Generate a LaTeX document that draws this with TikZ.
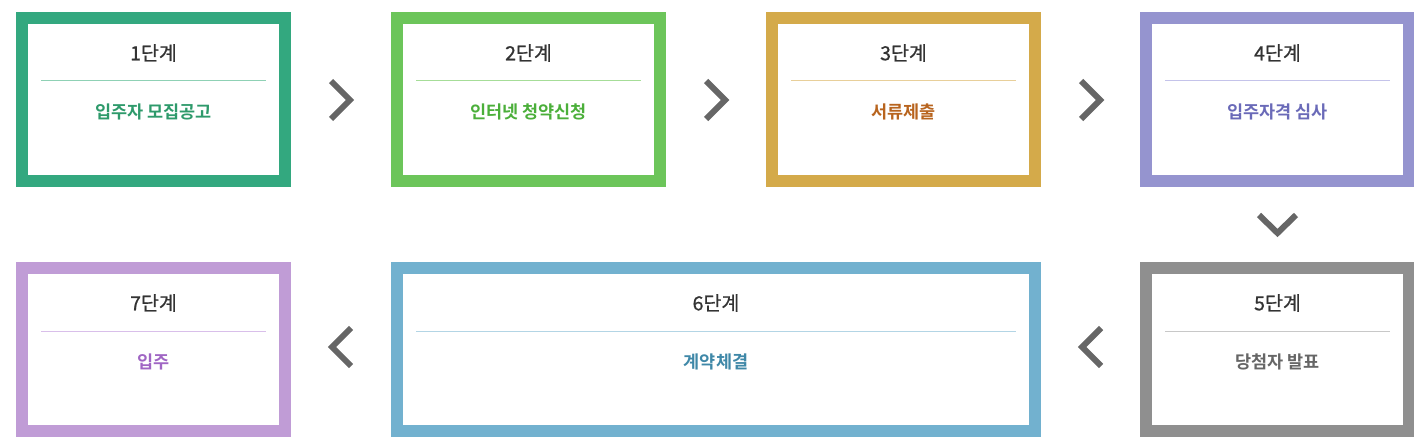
\documentclass[tikz,border=0pt]{standalone}
\usepackage{fontspec}
\setmainfont{Noto Sans CJK KR}
\newfontfamily\krbold{Noto Sans CJK KR Bold}
\newfontfamily\krmed[FakeBold=0.8]{Noto Sans CJK KR}
\definecolor{bA}{HTML}{33A87F}\definecolor{tA}{HTML}{2E9A6B}\definecolor{lA}{HTML}{8FD1B5}
\definecolor{bB}{HTML}{6CC55A}\definecolor{tB}{HTML}{4BAF3A}\definecolor{lB}{HTML}{A6DD98}
\definecolor{bC}{HTML}{D4AA4A}\definecolor{tC}{HTML}{B8641E}\definecolor{lC}{HTML}{E8CF9A}
\definecolor{bD}{HTML}{9594CF}\definecolor{tD}{HTML}{6A6AB8}\definecolor{lD}{HTML}{C4C3EA}
\definecolor{bE}{HTML}{8F8F8F}\definecolor{tE}{HTML}{666666}\definecolor{lE}{HTML}{C8C8C8}
\definecolor{bF}{HTML}{72B1CF}\definecolor{tF}{HTML}{3F88A8}\definecolor{lF}{HTML}{B3D5E5}
\definecolor{bG}{HTML}{C09CD6}\definecolor{tG}{HTML}{A066C4}\definecolor{lG}{HTML}{D9BFEA}
\definecolor{ttl}{HTML}{333333}
\definecolor{chevc}{HTML}{666666}
\tikzset{
  stepbox/.style={draw, line width=12pt, fill=white, inner sep=0pt, minimum height=163pt, minimum width=263pt},
  steptitle/.style={font=\krmed\fontsize{19.5}{22}\selectfont, text=ttl, inner sep=0pt},
  stepsub/.style={font=\krbold\fontsize{17.5}{20}\selectfont, inner sep=0pt},
  chev/.style={draw=chevc, line width=6pt, miter limit=10},
  pics/chevright/.style={code={\draw[chev] (-10,-19) -- (9,0) -- (-10,19);}},
  pics/chevleft/.style={code={\draw[chev] (10,-19) -- (-9,0) -- (10,19);}},
  pics/chevdown/.style={code={\draw[chev] (-18.5,-9) -- (0,9) -- (18.5,-9);}},
}
\newcommand{\stepparts}[5]{%
  \node[steptitle] (#1t) at ([yshift=46.5pt]#1.center) {#2};
  \draw[#4, line width=1pt] ([xshift=25pt,yshift=-69pt]#1.north west) -- ([xshift=-25pt,yshift=-69pt]#1.north east);
  \node[stepsub, text=#5] (#1s) at ([yshift=-12.5pt]#1.center) {#3};
}
\begin{document}
\begin{tikzpicture}[x=1pt,y=-1pt]
\useasboundingbox (0,0) rectangle (1414,444);
\node[stepbox, draw=bA] (s1) at (153.5,99.5) {};
\node[stepbox, draw=bB] (s2) at (528.5,99.5) {};
\node[stepbox, draw=bC] (s3) at (903.5,99.5) {};
\node[stepbox, draw=bD] (s4) at (1277.5,99.5) {};
\node[stepbox, draw=bE] (s5) at (1277.5,349.5) {};
\node[stepbox, draw=bF, minimum width=638pt] (s6) at (716,349.5) {};
\node[stepbox, draw=bG] (s7) at (153.5,349.5) {};
\stepparts{s1}{1단계}{입주자 모집공고}{lA}{tA}
\stepparts{s2}{2단계}{인터넷 청약신청}{lB}{tB}
\stepparts{s3}{3단계}{서류제출}{lC}{tC}
\stepparts{s4}{4단계}{입주자격 심사}{lD}{tD}
\stepparts{s5}{5단계}{당첨자 발표}{lE}{tE}
\stepparts{s6}{6단계}{계약체결}{lF}{tF}
\stepparts{s7}{7단계}{입주}{lG}{tG}
\pic at (341,100) {chevright};
\pic at (716,100) {chevright};
\pic at (1091,100) {chevright};
\pic at (1277.5,224) {chevdown};
\pic at (1091,347) {chevleft};
\pic at (341,347) {chevleft};
\end{tikzpicture}
\end{document}
